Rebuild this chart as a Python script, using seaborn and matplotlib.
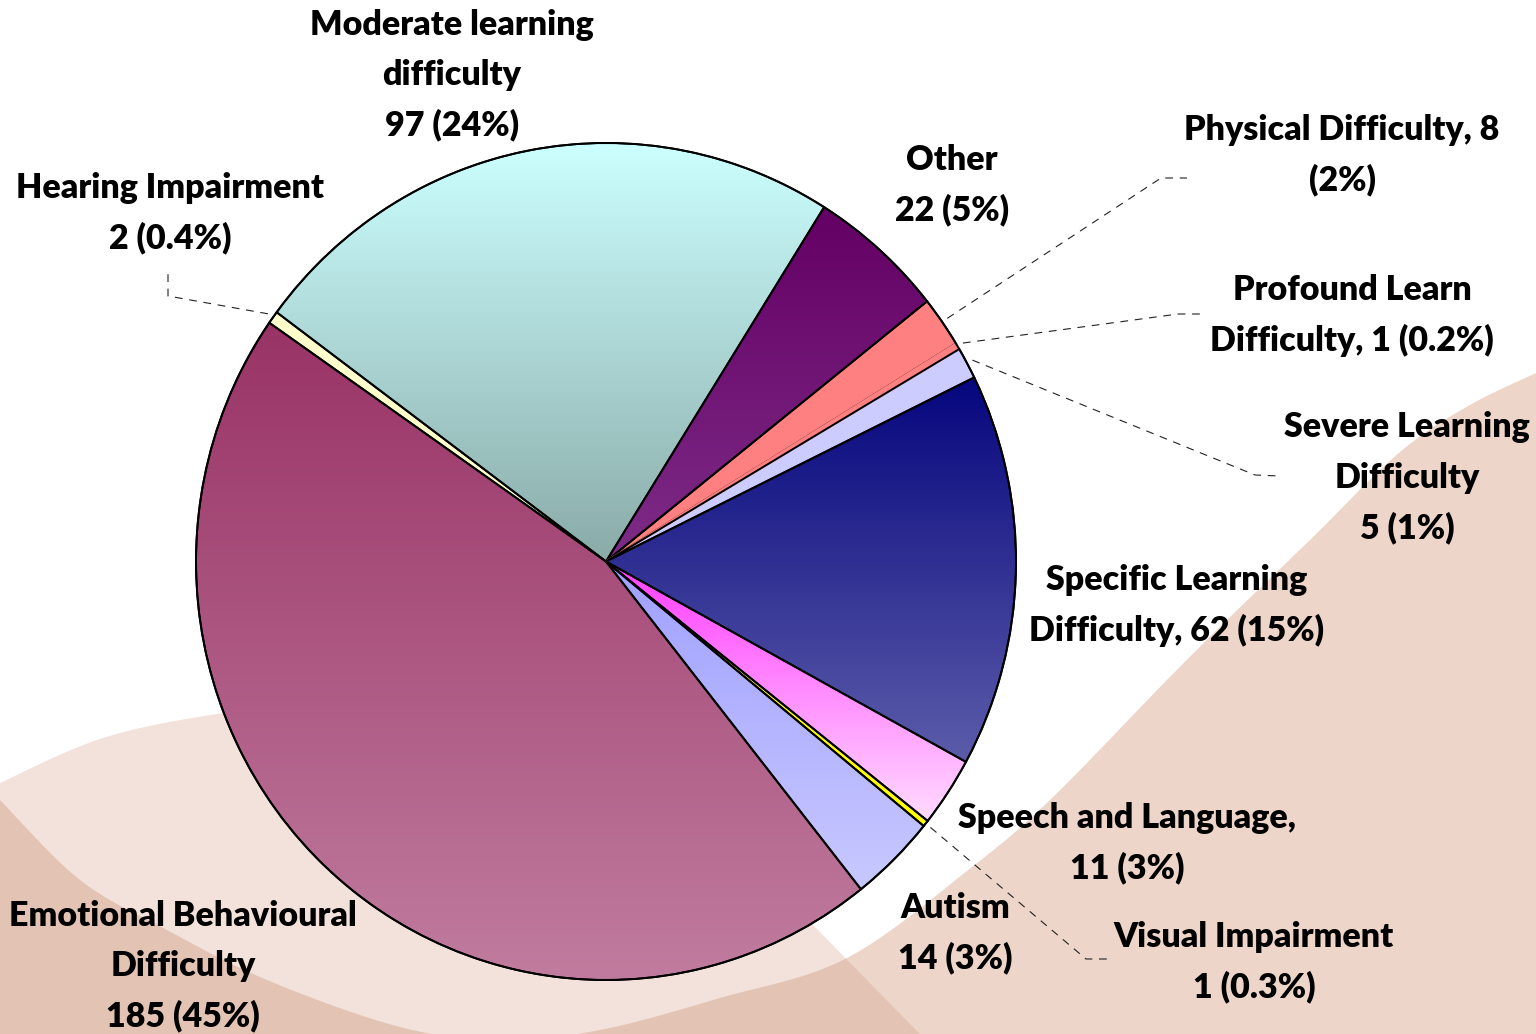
import numpy as np
import matplotlib
matplotlib.use("Agg")
import matplotlib.pyplot as plt
import seaborn as sns
from matplotlib.patches import Polygon, Ellipse

# ---------------- data ----------------
categories = ["Autism", "Emotional Behavioural Difficulty", "Hearing Impairment",
              "Moderate learning difficulty", "Other", "Physical Difficulty",
              "Profound Learn Difficulty", "Severe Learning Difficulty",
              "Specific Learning Difficulty", "Speech and Language", "Visual Impairment"]
counts = [14, 185, 2, 97, 22, 8, 1, 5, 62, 11, 1]
label_lines = [
    ["Autism", "14 (3%)"],
    ["Emotional Behavioural", "Difficulty", "185 (45%)"],
    ["Hearing Impairment", "2 (0.4%)"],
    ["Moderate learning", "difficulty", "97 (24%)"],
    ["Other", "22 (5%)"],
    ["Physical Difficulty, 8", "(2%)"],
    ["Profound Learn", "Difficulty, 1 (0.2%)"],
    ["Severe Learning", "Difficulty", "5 (1%)"],
    ["Specific Learning", "Difficulty, 62 (15%)"],
    ["Speech and Language,", "11 (3%)"],
    ["Visual Impairment", "1 (0.3%)"],
]
grad_top = ["#A0A0FF", "#993366", "#FFFFCC", "#CCFFFF", "#640064", "#FF8080",
            "#FF8080", "#CCCCFF", "#06067E", "#FF3CFF", "#FFFF00"]
grad_bottom = ["#C8C8FF", "#C07C9E", "#FFFFCC", "#8AABA8", "#7E2C88", "#FF8080",
               "#FF8080", "#CCCCFF", "#5C5CAA", "#FFDCFF", "#FFFF00"]

# ---------------- layout (pixels) ----------------
W, H = 1536, 1034
CX, CY = 606, 561.5          # pie centre (pixel, y downward)
RX, RY = 410, 418.5          # pie radii
START = -39.2                # start angle of first wedge

label_x = [955, 183, 170, 452, 952, 1342, 1352, 1407, 1177, 1127, 1254]
label_y = [[908, 958], [916, 966, 1016], [188, 238], [25, 75, 125], [160, 210],
           [130, 180], [290, 340], [427, 478, 528], [580, 630], [818, 868], [937, 987]]
leaders = {2: [(168, 296), (168, 270)],
           5: [(1161, 178), (1187, 178)],
           6: [(1178, 314), (1204, 314)],
           7: [(1255, 475), (1280, 476)],
           10: [(1086, 959), (1110, 959)]}

sns.set_theme(style="white")
plt.rcParams["font.family"] = ["Lato", "DejaVu Sans"]

fig = plt.figure(figsize=(W / 100, H / 100), dpi=100)
fig.patch.set_facecolor("white")

# ---------------- background decoration ----------------
def smooth(pts, n=20):
    pts = np.asarray(pts, float)
    P = np.vstack([pts[0], pts, pts[-1]])
    out = []
    for i in range(1, len(P) - 2):
        p0, p1, p2, p3 = P[i - 1], P[i], P[i + 1], P[i + 2]
        for t in np.linspace(0, 1, n, endpoint=False):
            out.append(0.5 * ((2 * p1) + (-p0 + p2) * t +
                              (2 * p0 - 5 * p1 + 4 * p2 - p3) * t ** 2 +
                              (-p0 + 3 * p1 - 3 * p2 + p3) * t ** 3))
    out.append(pts[-1])
    return np.array(out)

ax_bg = fig.add_axes([0, 0, 1, 1], zorder=0)
ax_bg.set_xlim(0, W)
ax_bg.set_ylim(H, 0)
ax_bg.axis("off")

u_curve = smooth([(-5, 795), (0, 800), (80, 880), (167, 930), (267, 980), (400, 1027),
                  (500, 1040), (600, 1030), (720, 998), (847, 958), (972, 867),
                  (1050, 800), (1165, 682), (1227, 620), (1310, 540), (1400, 452),
                  (1470, 405), (1536, 373), (1545, 368)])
medium_poly = np.vstack([u_curve, [(1545, 1045), (-5, 1045)]])
band_top = smooth([(-5, 786), (0, 783), (103, 738), (223, 713), (400, 690),
                   (600, 730), (740, 840), (800, 912), (813, 925), (920, 1034), (935, 1049)])
band_poly = np.vstack([band_top, [(-5, 1049)]])

medium = Polygon(medium_poly, closed=True, facecolor="#EDD5C9", edgecolor="none", zorder=1)
band = Polygon(band_poly, closed=True, facecolor="#F2E2DB", edgecolor="none", zorder=2)
ax_bg.add_patch(medium)
ax_bg.add_patch(band)
dark = Polygon(medium_poly, closed=True, facecolor="#E3C4B4", edgecolor="none", zorder=3)
ax_bg.add_patch(dark)
dark.set_clip_path(band)

# ---------------- pie ----------------
lim = 1.2
pw, ph = 2 * lim * RX, 2 * lim * RY
ax = fig.add_axes([(CX - pw / 2) / W, (H - CY - ph / 2) / H, pw / W, ph / H], zorder=1)
ax.patch.set_visible(False)
LW = 1.4
wedges, _ = ax.pie(counts, startangle=START, counterclock=False, radius=1.0,
                   colors=grad_top,
                   wedgeprops=dict(edgecolor="black", linewidth=LW))
ax.set_aspect("auto")
ax.set_xlim(-lim, lim)
ax.set_ylim(-lim, lim)
ax.axis("off")

gradient = np.linspace(0, 1, 256).reshape(-1, 1)
for w, c0, c1 in zip(wedges, grad_top, grad_bottom):
    bb = w.get_path().get_extents()
    cmap = sns.blend_palette([c0, c1], n_colors=256, as_cmap=True)
    im = ax.imshow(gradient, cmap=cmap, extent=(bb.x0, bb.x1, bb.y0, bb.y1),
                   origin="upper", aspect="auto", interpolation="bilinear", zorder=2)
    im.set_clip_path(w)
    w.set_facecolor("none")
    w.set_zorder(3)

# the tiny "Profound" slice blends into the "Physical" slice (no visible divider)
idx_prof = categories.index("Profound Learn Difficulty")
wedges[idx_prof].set_facecolor(grad_top[idx_prof])
wedges[idx_prof].set_edgecolor(grad_top[idx_prof])
wedges[idx_prof].set_zorder(3.5)
wedges[idx_prof + 1].set_zorder(3.6)
ax.add_patch(Ellipse((0, 0), 2, 2, facecolor="none", edgecolor="black", lw=LW, zorder=4))

ax.set_aspect("auto")
ax.set_xlim(-lim, lim)
ax.set_ylim(-lim, lim)

# ---------------- labels & leader lines ----------------
ax_o = fig.add_axes([0, 0, 1, 1], zorder=2)
ax_o.patch.set_visible(False)
ax_o.set_xlim(0, W)
ax_o.set_ylim(H, 0)
ax_o.axis("off")

for i, lines in enumerate(label_lines):
    for txt, yy in zip(lines, label_y[i]):
        ax_o.text(label_x[i], yy, txt, ha="center", va="center",
                  fontsize=24.5, fontweight="heavy", color="black")

for i, pts in leaders.items():
    w = wedges[i]
    mid = np.deg2rad((w.theta1 + w.theta2) / 2)
    disp = ax.transData.transform((1.015 * np.cos(mid), 1.015 * np.sin(mid)))
    sx, sy = ax_o.transData.inverted().transform(disp)
    xs = [sx] + [p[0] for p in pts]
    ys = [sy] + [p[1] for p in pts]
    ax_o.plot(xs, ys, color="#222222", lw=0.8, ls=(0, (7, 6)))

fig.savefig("out.png", dpi=100)
